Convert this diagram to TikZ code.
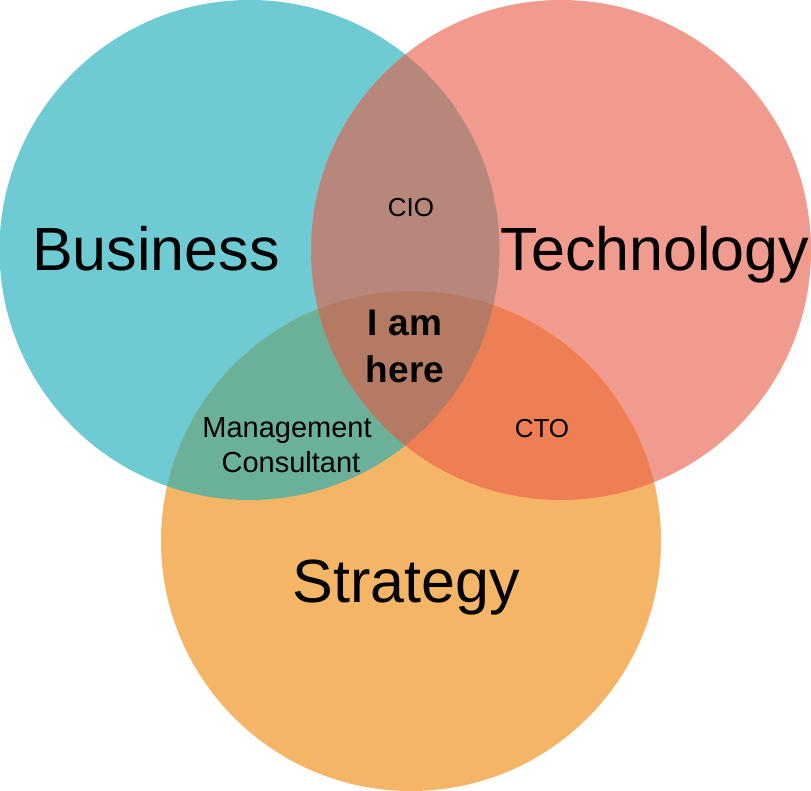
\documentclass[tikz,border=0pt]{standalone}
\usepackage{fontspec}
\setmainfont{Liberation Sans}
\definecolor{cB}{HTML}{6FCBD3}
\definecolor{cT}{HTML}{F09B8D}
\definecolor{cS}{HTML}{F5B566}
\definecolor{cBT}{HTML}{B8877B}
\definecolor{cBS}{HTML}{6BB19A}
\definecolor{cTS}{HTML}{EE7F55}
\definecolor{cBTS}{HTML}{B47A63}
\begin{document}
\begin{tikzpicture}[x=1pt,y=-1pt,
  big/.style={font=\fontsize{61}{61}\selectfont, anchor=base, inner sep=0pt},
  small/.style={font=\fontsize{26}{26}\selectfont, anchor=base, inner sep=0pt},
  mid/.style={font=\fontsize{29}{29}\selectfont, anchor=base, inner sep=0pt},
  bold/.style={font=\fontsize{37}{37}\selectfont\bfseries, anchor=base, inner sep=0pt}]
\useasboundingbox (0,0) rectangle (811,791);
\def\circB{(249.5,250) circle (250)}
\def\circT{(561,250) circle (250)}
\def\circS{(411,541) circle (250)}
\fill[cB] \circB;
\fill[cT] \circT;
\fill[cS] \circS;
\begin{scope}\clip \circB; \fill[cBT] \circT; \end{scope}
\begin{scope}\clip \circB; \fill[cBS] \circS; \end{scope}
\begin{scope}\clip \circT; \fill[cTS] \circS; \end{scope}
\begin{scope}\clip \circB; \clip \circT; \fill[cBTS] \circS; \end{scope}
\node[big] (bus) at (156,271) {Business};
\node[big] (tec) at (655,271) {Technology};
\node[big] (str) at (406,602) {Strategy};
\node[small] (cio) at (411,217) {CIO};
\node[small] (cto) at (542,437) {CTO};
\node[mid] (mc1) at (287,437) {Management};
\node[mid] (mc2) at (291,472) {Consultant};
\node[bold] (h1) at (405,336) {I am};
\node[bold] (h2) at (405,382) {here};
\end{tikzpicture}
\end{document}
